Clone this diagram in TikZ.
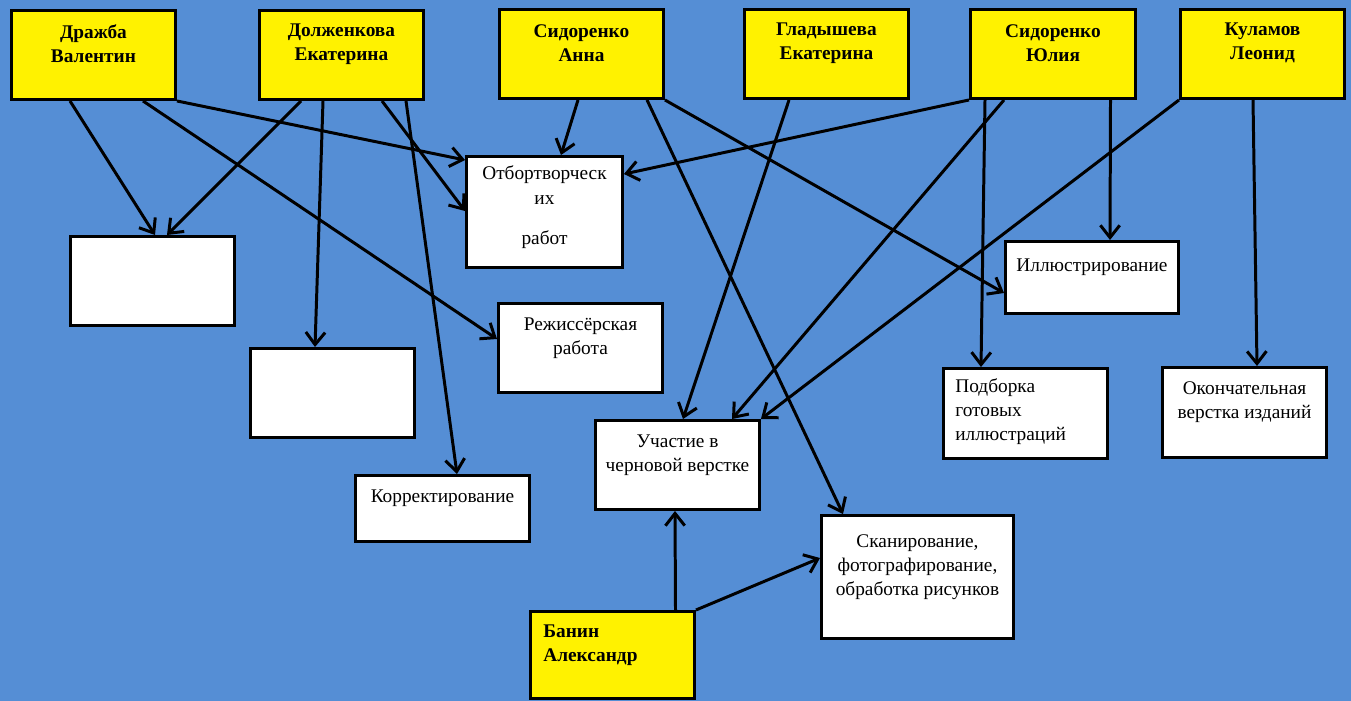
\documentclass[tikz,border=0pt]{standalone}
\usepackage{fontspec}
\setmainfont{Liberation Serif}
\usepackage{xcolor}
\usepackage{tikz}
\usetikzlibrary{arrows.meta}

\definecolor{bgblue}{HTML}{558ED5}

\begin{document}
\begin{tikzpicture}[
    x=0.02cm, y=-0.02cm,
    person/.style={rectangle, draw=black, fill=yellow, line width=1.7pt, anchor=north west, minimum width=3.28cm, minimum height=1.78cm, inner sep=0pt},
    task/.style={rectangle, draw=black, fill=white, line width=1.7pt, anchor=north west, minimum width=3.28cm, minimum height=1.78cm, inner sep=0pt},
    who/.style={anchor=center, yshift=0.22cm, inner sep=0pt, align=center, font=\fontsize{11}{13.6}\selectfont\bfseries},
    txt/.style={anchor=center, yshift=0.2cm, inner sep=0pt, align=center, font=\fontsize{11}{13.6}\selectfont},
    arrow/.style={-{Straight Barb[length=7pt,width=11pt]}, line width=1.7pt, black}
]

\useasboundingbox (0,0) rectangle (1351,700);
\fill[bgblue] (-5,-5) rectangle (1356,705);

% =====================
% People (top row)
% =====================
\node[person, label={[who]center:Дражба\\Валентин}] (drazhba) at (10,9) {};
\node[person, label={[who]center:Долженкова\\Екатерина}] (dolzh) at (258,9) {};
\node[person, label={[who]center:Сидоренко\\Анна}] (sidAnna) at (498,8) {};
\node[person, label={[who]center:Гладышева\\Екатерина}] (glad) at (743,8) {};
\node[person, minimum width=3.3cm, label={[who]center:Сидоренко\\Юлия}] (sidJulia) at (969,8) {};
\node[person, label={[who]center:Куламов\\Леонид}] (kulamov) at (1179,8) {};
\node[person, minimum height=1.74cm, label={[who, align=left, anchor=west, xshift=0.28cm, yshift=-0.02cm]west:Банин\\Александр}] (banin) at (529,610) {};

% =====================
% Tasks
% =====================
\node[task] (blankA) at (69,235) {};
\node[task] (blankB) at (249,347) {};
\node[task, minimum width=3.48cm, minimum height=1.32cm, label={[txt]center:Корректирование}] (korrekt) at (354,474) {};
\node[task, minimum width=3.12cm, minimum height=2.22cm, label={[txt, yshift=-0.1cm]center:{Отбортворческ\\[1pt]их\\[9pt]работ}}] (otbor) at (465,155) {};
\node[task, label={[txt]center:Режиссёрская\\работа}] (rezh) at (497,302) {};
\node[task, minimum width=3.46cm, minimum height=1.44cm, label={[txt]center:Иллюстрирование}] (illustr) at (1004,240) {};
\node[task, minimum height=1.8cm, label={[txt, align=left, anchor=west, xshift=0.26cm, yshift=-0.16cm]west:Подборка\\готовых\\иллюстраций}] (podbor) at (942,367) {};
\node[task, minimum height=1.8cm, label={[txt]center:Окончательная\\верстка изданий}] (okonch) at (1161,366) {};
\node[task, label={[txt]center:Участие в\\черновой верстке}] (uchast) at (594,419) {};
\node[task, minimum width=3.84cm, minimum height=2.46cm, label={[txt]center:{Сканирование,\\фотографирование,\\обработка рисунков}}] (skan) at (820,514) {};

% =====================
% Arrows
% =====================
\draw[arrow] (drazhba.south -| 70,0) -- (blankA.north -| 155,0);
\draw[arrow] (drazhba.south -| 143,0) -- (rezh.west |- 0,339);
\draw[arrow] (drazhba.south east) -- (otbor.west |- 0,160);

\draw[arrow] (dolzh.south -| 301,0) -- (blankA.north -| 167,0);
\draw[arrow] (dolzh.south -| 323,0) -- (blankB.north -| 315,0);
\draw[arrow] (dolzh.south -| 382,0) -- (otbor.west |- 0,211);
\draw[arrow] (dolzh.south -| 406,0) -- (korrekt.north -| 457,0);

\draw[arrow] (sidAnna.south -| 578,0) -- (otbor.north -| 561,0);
\draw[arrow] (sidAnna.south -| 647,0) -- (skan.north -| 843,0);
\draw[arrow] (sidAnna.south east) -- (illustr.west |- 0,293);

\draw[arrow] (glad.south -| 789,0) -- (uchast.north -| 683,0);

\draw[arrow] (sidJulia.south west) -- (otbor.east |- 0,174);
\draw[arrow] (sidJulia.south -| 1004,0) -- (uchast.north -| 732,0);
\draw[arrow] (sidJulia.south -| 985,0) -- (podbor.north -| 981,0);
\draw[arrow] (sidJulia.south -| 1110.5,0) -- (illustr.north -| 1110,0);

\draw[arrow] (kulamov.south west) -- (uchast.north east);
\draw[arrow] (kulamov.south -| 1253,0) -- (okonch.north -| 1257,0);

\draw[arrow] (banin.north -| 675.5,0) -- (uchast.south -| 675,0);
\draw[arrow] (banin.north east) -- (skan.west |- 0,558);

\end{tikzpicture}
\end{document}
